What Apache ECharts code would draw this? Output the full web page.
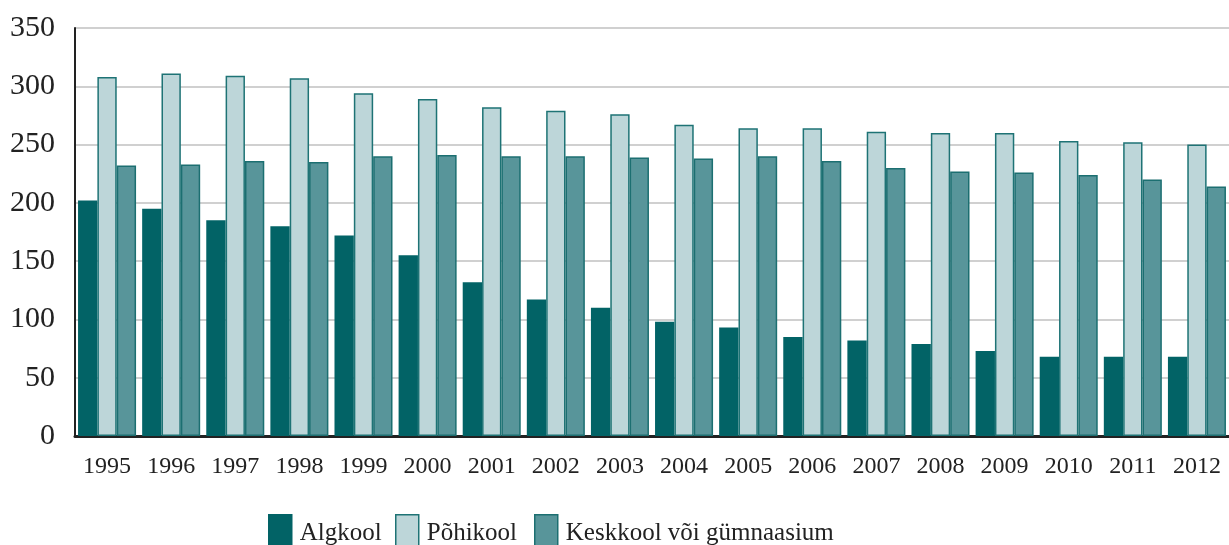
<!DOCTYPE html>
<html><head><meta charset="utf-8">
<script src="https://cdn.jsdelivr.net/npm/echarts@6/dist/echarts.min.js"></script>
<style>html,body{margin:0;padding:0;background:#fff}#c{width:1229px;height:545px}</style>
</head><body><div id="c"></div>
<script>
const years = ['1995','1996','1997','1998','1999','2000','2001','2002','2003','2004','2005','2006','2007','2008','2009','2010','2011','2012'];
const algkool = [202,195,185,180,172,155,132,117,110,98,93,85,82,79,73,68,68,68];
const pohikool = [308,311,309,307,294,289,282,279,276,267,264,264,261,260,260,253,252,250];
const keskkool = [232,233,236,235,240,241,240,240,239,238,240,236,230,227,226,224,220,214];
const seriesNames = ['Algkool','Põhikool','Keskkool või gümnaasium'];
const yTicks = [0,50,100,150,200,250,300,350];

const font = 'Liberation Serif';
const colors = ['#026366','#bdd6d9','#58959a'];
const borders = ['#026366','#1e7375','#1c6f71'];
const legendLeft = [263,390,529];

const chart = echarts.init(document.getElementById('c'));
chart.setOption({
  animation:false,
  grid:{left:75,right:-9,top:28,bottom:109,containLabel:false},
  legend: seriesNames.map((n,i)=>({
    data:[{name:n,icon:'rect',itemStyle:{color:colors[i],borderColor:borders[i],borderWidth:1.5}}],
    left:legendLeft[i], top:509, itemWidth:23, itemHeight:38, itemGap:10,
    textStyle:{fontFamily:font,fontSize:25,color:'#222',padding:[0,0,4,3]},
    selectedMode:false
  })),
  xAxis:{type:'category',data:years,
    axisLine:{lineStyle:{color:'#222',width:3}},axisTick:{show:false},
    axisLabel:{fontFamily:font,fontSize:24,color:'#222',margin:19}},
  yAxis:{type:'value',min:yTicks[0],max:yTicks[yTicks.length-1],interval:50,
    axisLine:{show:true,lineStyle:{color:'#222',width:2}},axisTick:{show:false},
    splitLine:{lineStyle:{color:'#d0d0d0',width:2}},
    axisLabel:{fontFamily:font,fontSize:30,color:'#222',margin:20}},
  series:[algkool,pohikool,keskkool].map((d,i)=>({
    name:seriesNames[i],type:'bar',data:d,barGap:'0%',barCategoryGap:'9.5%',
    itemStyle:{color:colors[i],borderColor:borders[i],borderWidth:i===0?0:1.5}
  }))
});
</script></body></html>
